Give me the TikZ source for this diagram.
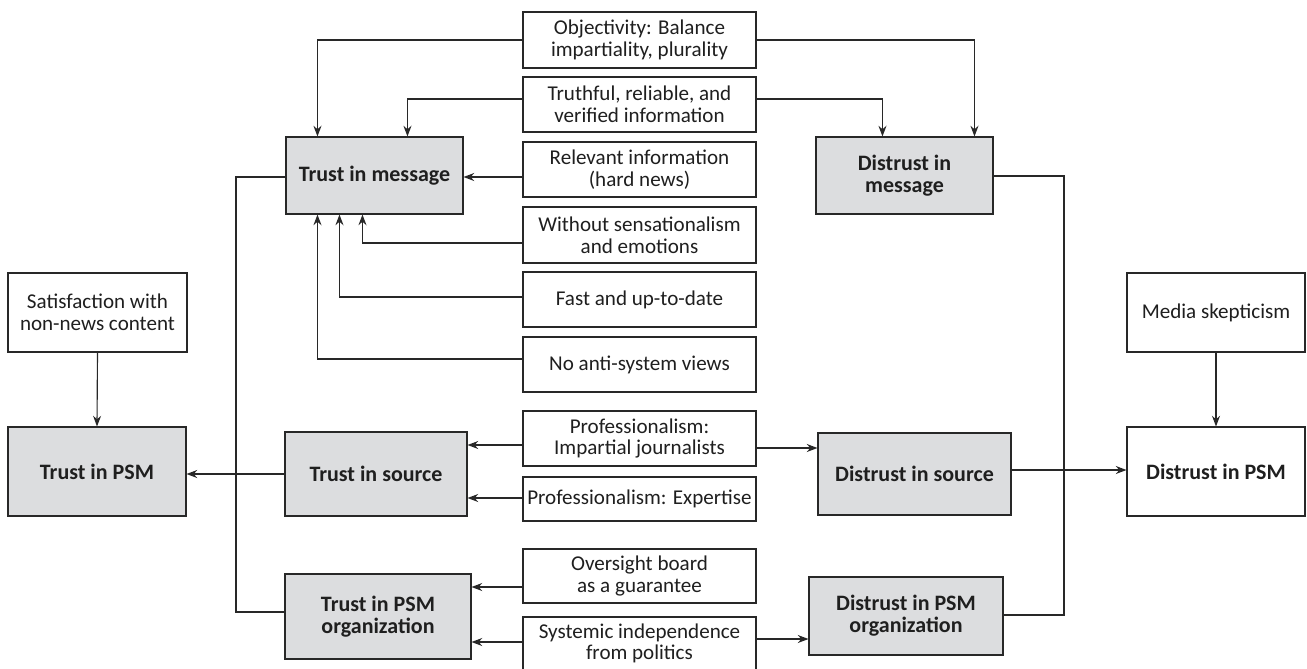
\documentclass[tikz,border=0pt]{standalone}
\usepackage{fontspec}
\setmainfont{Carlito}
\usetikzlibrary{arrows.meta,calc}
\definecolor{boxgray}{RGB}{220,221,223}
\definecolor{linecol}{RGB}{40,40,40}
\begin{document}
\begin{tikzpicture}[x=0.75pt,y=-0.75pt,
  plainbox/.style={draw=linecol,line width=0.8pt,fill=white,align=center,inner sep=0pt,
    font=\fontsize{15.8}{16.3}\selectfont,text=black!88},
  keybox/.style={plainbox,fill=boxgray,font=\fontsize{16.5}{16.3}\selectfont\bfseries},
  outbox/.style={plainbox,font=\fontsize{16.5}{16.3}\selectfont\bfseries},
  conn/.style={draw=linecol,line width=0.85pt},
  arr/.style={conn,-{Stealth[length=8pt,width=6pt]}}]
\useasboundingbox (0,0) rectangle (1307,668);
% left column
\node[plainbox,minimum width=179*0.75pt,minimum height=79*0.75pt] (sat) at (97.5,312.5) {Satisfaction with\\non-news content};
\node[keybox,minimum width=178*0.75pt,minimum height=89*0.75pt] (tpsm) at (97,471.5) {Trust in PSM};
% trust column
\node[keybox,minimum width=177*0.75pt,minimum height=77*0.75pt] (tmsg) at (374.5,175.5) {Trust in message};
\node[keybox,minimum width=182*0.75pt,minimum height=84*0.75pt] (tsrc) at (376,474) {Trust in source};
\node[keybox,minimum width=186*0.75pt,minimum height=85*0.75pt] (torg) at (378,616.5) {Trust in PSM\\organization};
% middle column
\node[plainbox,minimum width=233*0.75pt,minimum height=56*0.75pt] (obj) at (639.5,40) {Objectivity: Balance\\impartiality, plurality};
\node[plainbox,minimum width=233*0.75pt,minimum height=55*0.75pt] (truth) at (639.5,104.5) {Truthful, reliable, and\\verified information};
\node[plainbox,minimum width=233*0.75pt,minimum height=55*0.75pt] (rel) at (639.5,169.5) {Relevant information\\(hard news)};
\node[plainbox,minimum width=233*0.75pt,minimum height=56*0.75pt] (sens) at (639.5,235) {Without sensationalism\\and emotions};
\node[plainbox,minimum width=233*0.75pt,minimum height=55*0.75pt] (fast) at (639.5,299.5) {Fast and up-to-date};
\node[plainbox,minimum width=233*0.75pt,minimum height=55*0.75pt] (anti) at (639.5,364.5) {No anti-system views};
\node[plainbox,minimum width=233*0.75pt,minimum height=55*0.75pt] (imp) at (639.5,438.5) {Professionalism:\\Impartial journalists};
\node[plainbox,minimum width=233*0.75pt,minimum height=44*0.75pt] (exp) at (639.5,499) {Professionalism: Expertise};
\node[plainbox,minimum width=233*0.75pt,minimum height=54*0.75pt] (over) at (639.5,576) {Oversight board\\as a guarantee};
\node[plainbox,minimum width=233*0.75pt,minimum height=53*0.75pt] (sys) at (639.5,643.5) {Systemic independence\\from politics};
% distrust column
\node[keybox,minimum width=177*0.75pt,minimum height=77*0.75pt] (dmsg) at (904.5,175.5) {Distrust in\\message};
\node[keybox,minimum width=193*0.75pt,minimum height=82*0.75pt] (dsrc) at (914.5,474) {Distrust in source};
\node[keybox,minimum width=194*0.75pt,minimum height=78*0.75pt] (dorg) at (906,616) {Distrust in PSM\\organization};
% right column
\node[plainbox,minimum width=178*0.75pt,minimum height=79*0.75pt] (media) at (1216,312.5) {Media skepticism};
\node[outbox,minimum width=178*0.75pt,minimum height=89*0.75pt] (dpsm) at (1216,471.5) {Distrust in PSM};
% bus coordinates
\coordinate (bl) at (236,0);
\coordinate (br) at (1064,0);
% arrows into Trust in message
\draw[arr] (obj.west) -| ($(tmsg.north west)+(32,0)$);
\draw[arr] ($(truth.west)+(0,-5.5)$) -| ($(tmsg.north west)+(122,0)$);
\coordinate (r1) at ($(rel.west)+(0,7.5)$);
\draw[arr] (r1) -- (r1 -| tmsg.east);
\draw[arr] ($(sens.west)+(0,8)$) -| ($(tmsg.south west)+(77,0)$);
\draw[arr] ($(fast.west)+(0,-2.5)$) -| ($(tmsg.south west)+(54,0)$);
\draw[arr] ($(anti.west)+(0,-5.5)$) -| ($(tmsg.south west)+(32,0)$);
% arrows into Distrust in message
\draw[arr] (obj.east) -| ($(dmsg.north west)+(159,0)$);
\draw[arr] ($(truth.east)+(0,-5.5)$) -| ($(dmsg.north west)+(67,0)$);
% source
\coordinate (i1) at ($(imp.west)+(0,6.5)$);
\draw[arr] (i1) -- (i1 -| tsrc.east);
\coordinate (e1) at ($(exp.west)+(0,-1)$);
\draw[arr] (e1) -- (e1 -| tsrc.east);
\coordinate (i2) at ($(imp.east)+(0,9.5)$);
\draw[arr] (i2) -- (i2 -| dsrc.west);
% organization
\coordinate (o1) at ($(over.west)+(0,11)$);
\draw[arr] (o1) -- (o1 -| torg.east);
\coordinate (s1) at ($(sys.west)+(0,-1.5)$);
\draw[arr] (s1) -- (s1 -| torg.east);
\coordinate (s2) at ($(sys.east)+(0,-4.5)$);
\draw[arr] (s2) -- (s2 -| dorg.west);
% left bus
\coordinate (t1) at ($(tmsg.west)+(0,1.5)$);
\coordinate (t3) at ($(torg.west)+(0,-4.5)$);
\draw[conn] (t1) -- (t1 -| bl) -- (t3 -| bl) -- (t3);
\draw[arr] (tsrc.west) -- (tsrc.west -| tpsm.east);
\draw[arr] (sat.south) -- (tpsm.north);
% right bus
\coordinate (d1) at ($(dmsg.east)+(0,0.5)$);
\coordinate (d3) at ($(dorg.east)+(0,-1)$);
\draw[conn] (d1) -- (d1 -| br) -- (d3 -| br) -- (d3);
\coordinate (d2) at ($(dsrc.east)+(0,-4)$);
\draw[arr] (d2) -- (d2 -| dpsm.west);
\draw[arr] (media.south) -- (dpsm.north);
\end{tikzpicture}
\end{document}
